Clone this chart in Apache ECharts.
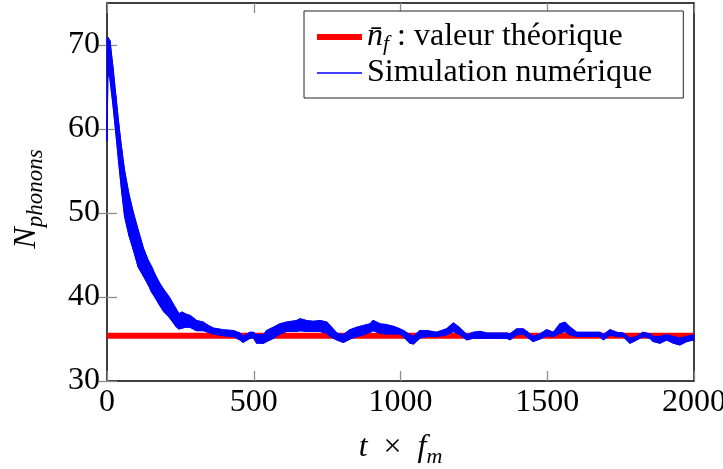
<!DOCTYPE html>
<html>
<head>
<meta charset="utf-8">
<script src="https://cdn.jsdelivr.net/npm/echarts@6/dist/echarts.min.js"></script>
<style>
html,body{margin:0;padding:0;background:#fff;}
#chart{width:723px;height:469px;}
</style>
</head>
<body>
<div id="chart"></div>
<script>
// ---- data ----
var xTicks = [0, 500, 1000, 1500, 2000];
var yTicks = [30, 40, 50, 60, 70];
var theoryX = [0, 2000];
var theoryValue = 35.4;
var simT = [0,3,10,20,30,40,50,60,75,90,106,124,140,152,165,180,195,212,225,235,245,256,266,283,305,328,345,362,396,430,453,464,487,498,510,533,544,567,589,612,646,658,680,703,726,749,760,783,805,828,851,873,896,907,930,953,976,998,1010,1032,1044,1066,1089,1123,1157,1180,1203,1226,1248,1271,1294,1330,1362,1373,1396,1418,1430,1452,1475,1498,1521,1543,1560,1578,1600,1640,1680,1691,1714,1737,1759,1782,1805,1827,1850,1861,1884,1907,1930,1952,1975,2000];
var simUpper = [70.4,70.9,70.5,67.4,64.0,60.6,57.6,55.0,52.2,50.0,48.0,45.8,44.4,43.6,42.6,41.6,40.8,40.0,39.2,38.6,38.0,38.2,38.0,37.8,37.2,37.0,36.6,36.3,36.1,36.0,35.7,35.3,35.8,35.8,35.5,35.5,36.0,36.4,36.8,37.0,37.2,37.4,37.2,37.1,37.2,37.0,36.6,35.7,35.5,36.1,36.4,36.6,36.8,37.2,36.8,36.7,36.5,36.2,36.0,35.5,35.3,36.0,36.0,35.8,36.2,36.9,36.3,35.5,35.8,35.9,35.7,35.7,35.7,35.6,36.2,36.2,35.9,35.3,35.6,36.1,35.8,36.8,37.0,36.4,35.8,35.8,35.8,35.5,36.1,35.8,35.7,35.1,35.3,35.8,35.6,35.3,35.3,35.5,35.3,35.1,35.3,35.5];
var simLower = [58.6,66.8,66.0,63.0,59.6,56.0,52.6,49.6,47.3,45.6,43.6,42.5,41.5,40.6,39.9,39.0,38.2,37.6,37.0,36.5,36.2,36.3,36.4,36.4,36.0,36.0,35.8,35.6,35.4,35.3,34.9,34.6,35.1,35.2,34.5,34.5,34.7,35.1,35.6,35.9,35.9,36.0,35.9,35.9,35.9,35.7,35.3,34.9,34.6,35.0,35.3,35.5,35.8,36.0,35.7,35.6,35.6,35.6,35.3,34.5,34.4,35.1,35.3,35.3,35.5,35.9,35.5,34.9,35.1,35.1,35.1,35.1,35.1,34.9,35.5,35.6,35.3,34.7,35.0,35.4,35.3,35.7,35.9,35.5,35.3,35.3,35.3,34.9,35.5,35.3,35.3,34.5,34.9,35.3,35.1,34.7,34.5,34.9,34.5,34.3,34.7,34.9];

var legendTheory = 'n̄f : valeur théorique';
var legendSim = 'Simulation numérique';

// ---- chart ----
var FONT = 'Liberation Serif';
var BLUE = '#0000ff';
var RED = '#ff0000';
var chart = echarts.init(document.getElementById('chart'), null, {renderer: 'canvas'});

var lowerData = simT.map(function (t, i) { return [t, simLower[i]]; });
var upperData = simT.map(function (t, i) { return [t, simUpper[i]]; });
var bandData = simT.map(function (t, i) { return [t, simUpper[i], simLower[i]]; });
var theoryData = theoryX.map(function (t) { return [t, theoryValue]; });

var tickStyle = {show: true, inside: true, length: 10, lineStyle: {color: '#8c8c8c', width: 1.3}};

function renderBand(params, api) {
  var i = params.dataIndex;
  if (i >= bandData.length - 1) return null;
  var a = bandData[i], b = bandData[i + 1];
  var pts = [
    api.coord([a[0], a[1]]),
    api.coord([b[0], b[1]]),
    api.coord([b[0], b[2]]),
    api.coord([a[0], a[2]])
  ];
  return {
    type: 'polygon',
    shape: {points: pts},
    style: {fill: BLUE, stroke: BLUE, lineWidth: 0.8}
  };
}

var option = {
  backgroundColor: '#ffffff',
  animation: false,
  grid: {left: 107, right: 29, top: 3, bottom: 88, outerBoundsMode: 'none', containLabel: false,
         show: true, borderColor: '#000', borderWidth: 1.5, backgroundColor: 'transparent'},
  xAxis: [{
    type: 'value', min: 0, max: 2000, interval: 500,
    axisLine: {show: false},
    axisTick: Object.assign({customValues: xTicks}, tickStyle),
    splitLine: {show: false},
    axisLabel: {customValues: xTicks, formatter: function (v) { return String(v); }, color: '#000', fontFamily: FONT, fontSize: 32, margin: 6},
    name: '{i|t}{r|  ×  }{i|f}{s|m}',
    nameLocation: 'middle', nameGap: 47,
    nameTextStyle: {
      rich: {
        i: {fontFamily: FONT, fontStyle: 'italic', fontSize: 32, color: '#000', lineHeight: 40},
        r: {fontFamily: FONT, fontSize: 32, color: '#000', lineHeight: 40},
        s: {fontFamily: FONT, fontStyle: 'italic', fontSize: 22, color: '#000', verticalAlign: 'bottom', lineHeight: 30}
      }
    }
  }, {
    type: 'value', min: 0, max: 2000, interval: 500, position: 'top',
    axisLine: {show: false},
    axisTick: Object.assign({customValues: xTicks}, tickStyle),
    axisLabel: {show: false}, splitLine: {show: false}
  }],
  yAxis: [{
    type: 'value', min: 30, max: 75, interval: 10,
    axisLine: {show: false},
    axisTick: Object.assign({customValues: yTicks}, tickStyle),
    splitLine: {show: false},
    axisLabel: {customValues: yTicks, color: '#000', fontFamily: FONT, fontSize: 32, margin: 7},
    name: '{i|N}{s|phonons}',
    nameLocation: 'middle', nameGap: 60,
    nameTextStyle: {
      padding: [0, 14, 0, 0],
      rich: {
        i: {fontFamily: FONT, fontStyle: 'italic', fontSize: 32, color: '#000', lineHeight: 40},
        s: {fontFamily: FONT, fontStyle: 'italic', fontSize: 23, color: '#000', verticalAlign: 'bottom', lineHeight: 30}
      }
    }
  }, {
    type: 'value', min: 30, max: 75, interval: 10, position: 'right',
    axisLine: {show: false},
    axisTick: Object.assign({customValues: yTicks}, tickStyle),
    axisLabel: {show: false}, splitLine: {show: false}
  }],
  legend: {
    orient: 'vertical',
    left: 304, top: 11,
    padding: [10, 31, 9, 10],
    itemGap: 2,
    itemWidth: 45, itemHeight: 14,
    backgroundColor: '#fff',
    borderColor: '#222', borderWidth: 1,
    data: [
      {name: legendTheory, lineStyle: {width: 6, color: RED}, itemStyle: {opacity: 0}},
      {name: legendSim, lineStyle: {width: 1.6, color: BLUE}, itemStyle: {opacity: 0}}
    ],
    formatter: function (name) {
      if (name === legendTheory) {
        return '{i|n̄}{s|f}{r| : valeur théorique}';
      }
      return '{r|' + name + '}';
    },
    textStyle: {
      rich: {
        i: {fontFamily: FONT, fontStyle: 'italic', fontSize: 32, color: '#000', lineHeight: 36},
        r: {fontFamily: FONT, fontSize: 32, color: '#000', lineHeight: 36},
        s: {fontFamily: FONT, fontStyle: 'italic', fontSize: 22, color: '#000', verticalAlign: 'bottom', lineHeight: 26}
      }
    }
  },
  series: [{
    name: legendTheory, type: 'line', data: theoryData, symbol: 'none',
    lineStyle: {color: RED, width: 6}, itemStyle: {color: RED}, z: 1
  }, {
    name: 'band', type: 'custom', data: bandData, renderItem: renderBand,
    encode: {x: 0, y: [1, 2]}, z: 2, silent: true
  }, {
    name: legendSim, type: 'line', data: lowerData, symbol: 'none',
    lineStyle: {color: BLUE, width: 1.2}, itemStyle: {color: BLUE}, z: 3
  }, {
    name: legendSim, type: 'line', data: upperData, symbol: 'none',
    lineStyle: {color: BLUE, width: 1.2}, itemStyle: {color: BLUE}, z: 3
  }]
};
chart.setOption(option);
</script>
</body>
</html>
